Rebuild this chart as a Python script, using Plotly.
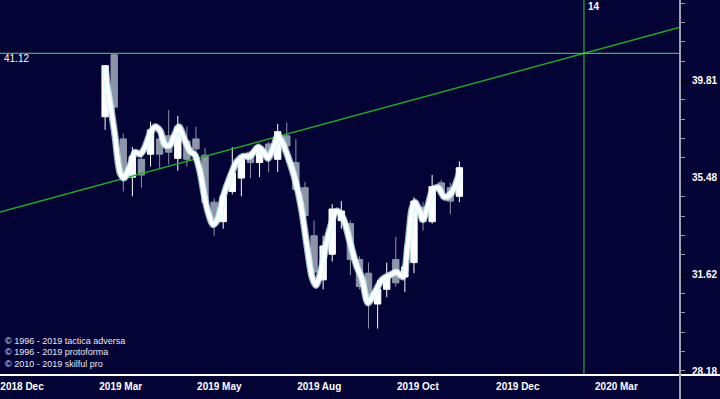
import math
import pandas as pd
import plotly.graph_objects as go

# ---------------- data ----------------
first_bar = "2019-03-08"   # weekly bars
opens  = [38.13, 41.05, 37.14, 35.49, 36.25, 36.47, 37.14, 37.28, 36.29, 37.05,
          37.14, 36.43, 34.45, 33.66, 34.89, 35.45, 36.56, 36.11, 36.92, 36.25,
          37.28, 36.11, 35.05, 33.10, 31.41, 32.38, 33.70, 33.58, 32.18, 31.66,
          30.52, 31.06, 32.18, 31.52, 32.06, 34.25, 33.66, 35.25, 35.05, 34.69]
highs  = [40.52, 41.12, 37.37, 36.78, 36.56, 37.90, 37.59, 38.44, 38.17, 37.68,
          37.68, 36.74, 34.61, 34.77, 36.78, 36.38, 36.61, 36.83, 37.01, 37.81,
          37.86, 37.14, 35.29, 33.70, 33.10, 34.37, 34.49, 33.70, 32.30, 32.06,
          31.41, 32.06, 33.06, 32.70, 34.65, 34.45, 35.58, 35.37, 35.25, 36.16]
lows   = [37.54, 38.39, 34.89, 34.69, 35.05, 35.94, 35.89, 36.03, 35.76, 35.94,
          36.47, 34.33, 33.10, 33.38, 34.77, 34.69, 35.45, 35.49, 35.71, 35.71,
          36.11, 34.85, 33.78, 31.41, 31.06, 32.10, 33.38, 31.59, 31.06, 29.64,
          29.64, 30.77, 31.16, 30.95, 31.66, 33.30, 33.58, 34.57, 33.97, 34.45]
closes = [40.52, 38.57, 35.49, 36.38, 35.58, 37.54, 36.47, 36.56, 37.68, 36.25,
          36.70, 34.45, 33.78, 34.69, 35.67, 36.25, 36.11, 36.74, 36.47, 37.46,
          36.83, 34.97, 33.90, 31.70, 32.70, 34.17, 34.09, 32.18, 31.16, 30.59,
          31.06, 31.52, 31.30, 31.90, 34.49, 33.66, 35.09, 34.89, 34.49, 35.89]

# smoothed curve: position in weeks from first bar, value
curve_pos = [0, 0.33, 0.77, 1.1, 1.65, 2.09, 2.75, 3.3, 3.85, 4.4, 4.95, 5.5, 6.05,
             6.6, 7.15, 7.7, 8.14, 8.8, 9.35, 9.9, 10.45, 10.89, 11.33, 11.88,
             12.43, 12.98, 13.75, 14.52, 15.18, 15.95, 16.83, 17.38, 17.93, 18.48,
             19.03, 19.58, 20.35, 21.12, 21.67, 22.22, 22.77, 23.21, 23.87, 24.53,
             25.52, 26.18, 26.95, 27.72, 28.27, 28.93, 29.7, 30.47, 31.35, 32.12,
             32.78, 33.33, 33.77, 34.1, 34.65, 34.98, 35.53, 36.08, 36.63, 37.4,
             38.17, 38.83, 39.05]
curve_val = [40.47, 39.29, 38.17, 37.23, 35.67, 35.45, 35.98, 36.56, 36.47, 36.78,
             37.37, 37.68, 37.50, 36.87, 36.87, 37.37, 37.68, 37.05, 36.61, 36.43,
             35.71, 34.77, 34.05, 33.54, 33.78, 34.65, 35.49, 36.16, 36.38, 36.38,
             36.78, 36.61, 36.29, 36.70, 37.28, 36.92, 36.11, 35.09, 34.05, 32.70,
             31.52, 31.20, 31.90, 33.10, 34.09, 33.82, 32.86, 31.90, 31.48, 30.56,
             30.95, 31.41, 31.59, 31.70, 31.52, 32.78, 34.17, 34.45, 34.05, 33.74,
             34.29, 34.97, 35.05, 34.65, 34.85, 35.45, 35.71]

trend_dates = ["2018-12-17", "2020-05-24"]
trend_vals = [34.05, 42.41]
level_value = 41.12
marker_date = "2020-03-11"
marker_text = "14"

y_ticks = [28.18, 31.62, 35.48, 39.81]
x_tick_dates = ["2019-01-03", "2019-03-20", "2019-06-04", "2019-08-20",
                "2019-11-04", "2020-01-20", "2020-04-05"]
x_tick_labels = ["2018 Dec", "2019 Mar", "2019 May", "2019 Aug",
                 "2019 Oct", "2019 Dec", "2020 Mar"]
copyright_lines = ["© 1996 - 2019 tactica adversa",
                   "© 1996 - 2019 protoforma",
                   "© 2010 - 2019 skilful pro"]

x_range = ["2018-12-17", "2020-05-24"]
y_range = [28.05, 43.81]

# ---------------- figure ----------------
bg = "#030336"
up_col = "#ffffff"
dn_col = "#8c96a8"

dates = pd.date_range(first_bar, periods=len(opens), freq="7D")
curve_dates = [pd.Timestamp(first_bar) + pd.Timedelta(days=7 * p) for p in curve_pos]

fig = go.Figure()

fig.add_trace(go.Scatter(x=trend_dates, y=trend_vals, mode="lines",
                         line=dict(color="#1faa1f", width=1.5), hoverinfo="skip"))
fig.add_trace(go.Scatter(x=x_range, y=[level_value, level_value], mode="lines",
                         line=dict(color="#55dd55", width=1), hoverinfo="skip"))
fig.add_trace(go.Scatter(x=[marker_date, marker_date], y=y_range, mode="lines",
                         line=dict(color="#33cc33", width=1), hoverinfo="skip"))

fig.add_trace(go.Candlestick(
    x=dates, open=opens, high=highs, low=lows, close=closes,
    increasing=dict(line=dict(color=up_col, width=1), fillcolor=up_col),
    decreasing=dict(line=dict(color=dn_col, width=1), fillcolor=dn_col),
    whiskerwidth=0))

fig.add_trace(go.Scatter(x=curve_dates, y=curve_val, mode="lines",
                         line=dict(color="rgba(200,250,255,0.75)", width=7, shape="spline", smoothing=0.8),
                         hoverinfo="skip"))
fig.add_trace(go.Scatter(x=curve_dates, y=curve_val, mode="lines",
                         line=dict(color="#ffffff", width=4.5, shape="spline", smoothing=0.8),
                         hoverinfo="skip"))

font_family = "Liberation Sans, Arial, sans-serif"

fig.update_layout(
    width=720, height=399,
    margin=dict(l=0, r=40, t=0, b=24),
    paper_bgcolor=bg, plot_bgcolor=bg,
    showlegend=False,
    boxgap=0.0,
    xaxis=dict(type="date", range=x_range, showgrid=False, zeroline=False,
               showline=False, ticks="", tickvals=x_tick_dates, ticktext=x_tick_labels,
               ticklabelstandoff=4,
               tickfont=dict(family=font_family, size=10, color="white", weight="bold"),
               rangeslider=dict(visible=False), fixedrange=True),
    yaxis=dict(type="log", side="right",
               range=[math.log10(y_range[0]), math.log10(y_range[1])],
               showgrid=False, zeroline=False, showline=False,
               tickvals=y_ticks, ticktext=[f"{v:.2f}" for v in y_ticks],
               ticks="outside", ticklen=9, tickcolor="#000000", tickwidth=1,
               tickfont=dict(family=font_family, size=10, color="white", weight="bold"),
               minor=dict(ticks="outside", ticklen=4, tickcolor="#9a9aa8",
                          tickvals=[round(10 ** (1.44 + 0.01 * k), 3) for k in range(22)]),
               fixedrange=True),
    shapes=[
        dict(type="line", xref="paper", yref="paper", x0=0, x1=1.06, y0=0, y1=0,
             line=dict(color="white", width=2)),
        dict(type="line", xref="paper", yref="paper", x0=1, x1=1, y0=-0.07, y1=1,
             line=dict(color="#a0a0ac", width=2)),
    ],
)

annotations = [
    dict(xref="paper", yref="y", x=0.0, y=math.log10(level_value), text=f"{level_value:.2f}",
         showarrow=False, xanchor="left", yanchor="top", xshift=2, yshift=2,
         font=dict(family=font_family, size=10, color="white")),
    dict(xref="x", yref="paper", x=marker_date, y=1, text=marker_text,
         showarrow=False, xanchor="left", yanchor="top", xshift=2, yshift=1,
         font=dict(family=font_family, size=10, color="white", weight="bold")),
]
for k, line in enumerate(copyright_lines):
    annotations.append(dict(xref="paper", yref="paper", x=0.0, y=(375 - 341 - 11.3 * k) / 375,
                            text=line, showarrow=False, xanchor="left", yanchor="middle",
                            xshift=3, font=dict(family=font_family, size=9, color="#e8e8f0")))
fig.update_layout(annotations=annotations)

fig.write_html("out.html", config={"displayModeBar": False},
               post_script="document.body.style.margin='0px';document.body.style.background='%s';" % bg)
